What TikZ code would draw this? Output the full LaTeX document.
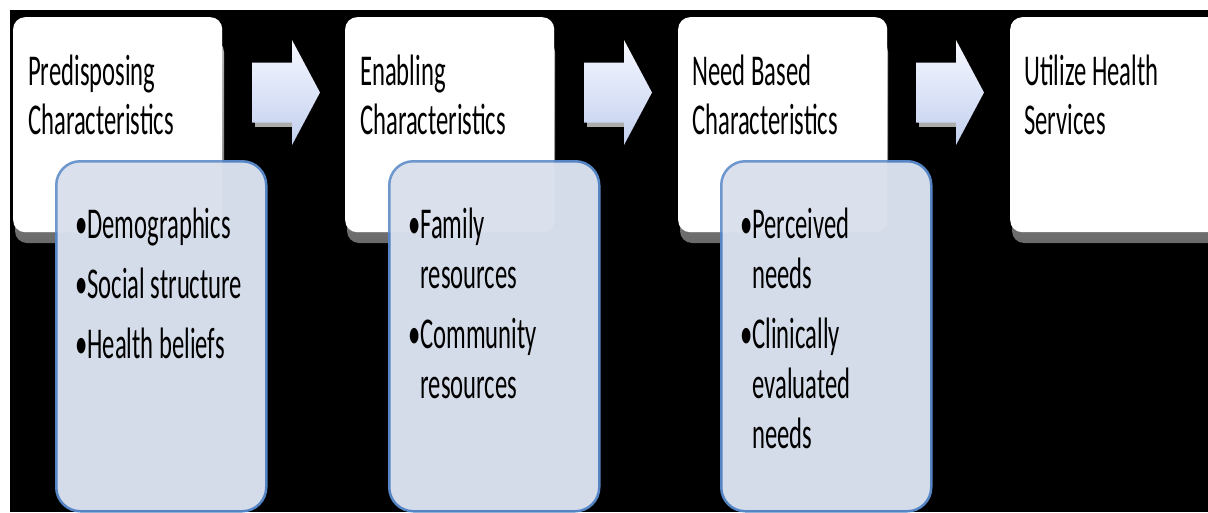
\documentclass[tikz,border=0pt]{standalone}
\usepackage{fontspec}
\setmainfont{Carlito}[FakeStretch=0.56]
\definecolor{panelfill}{HTML}{D5DCE9}
\definecolor{paneledge}{HTML}{5585C5}
\definecolor{arrowtop}{HTML}{F6F8FF}
\definecolor{arrowbot}{HTML}{C2CFEF}
\definecolor{shadowtop}{HTML}{B4B4B4}
\definecolor{shadowbot}{HTML}{6A6A6A}
\newcommand{\hangsp}{\phantom{•}}
\tikzset{
  stagebox/.style={fill=white, rounded corners=12pt, inner sep=0pt,
    minimum width=209pt, minimum height=215pt, anchor=north west},
  stageshadow/.style={top color=shadowtop, bottom color=shadowbot, rounded corners=12pt},
  detailbox/.style={fill=panelfill, draw=paneledge, line width=2.5pt,
    rounded corners=24pt, inner sep=0pt, minimum width=210pt,
    minimum height=350pt, anchor=north west},
  arrowshadow/.style={fill=gray!65},
  blockarrow/.pic={
    \fill[arrowshadow] (3,28) rectangle (40,34);
    \shade[top color=arrowtop, bottom color=arrowbot]
      (0,-30) -- (40,-30) -- (40,-52.5) -- (68,0) -- (40,52.5)
      -- (40,30) -- (0,30) -- cycle;
    \coordinate (-tip) at (68,0);
  },
  heading/.style={anchor=north west, inner sep=0pt, align=left,
    font={\fontsize{44}{49}\selectfont}},
  bullets/.style={anchor=north west, inner sep=0pt, align=left,
    font={\fontsize{44}{50}\selectfont}}
}
\begin{document}
\begin{tikzpicture}[x=1pt,y=-1pt]
  \useasboundingbox (0,0) rectangle (1208,512);
  \clip (0,0) rectangle (1208,512);
  \fill[white] (0,0) rectangle (1208,512);
  \fill[black] (10,10) rectangle (1208,512);

  % stage shadows and boxes
  \fill[stageshadow] (15,40) rectangle (224,243);
  \fill[stageshadow] (347,40) rectangle (555,243);
  \fill[stageshadow] (680,40) rectangle (888,243);
  \fill[stageshadow] (1012,40) rectangle (1230,243);
  \node[stagebox] (s1) at (13,17) {};
  \node[stagebox] (s2) at (345,17) {};
  \node[stagebox] (s3) at (678,17) {};
  \node[stagebox, minimum width=220pt] (s4) at (1010,17) {};

  % block arrows between stages
  \pic (a1) at (252,92.5) {blockarrow};
  \pic (a2) at (584,92.5) {blockarrow};
  \pic (a3) at (916,92.5) {blockarrow};

  % detail panels
  \node[detailbox] (d1) at (55,160) {};
  \node[detailbox] (d2) at (388,160) {};
  \node[detailbox] (d3) at (720,160) {};

  % stage boxes seen faintly through the panels
  \fill[white, fill opacity=0.15, rounded corners=12pt] (s1.north west) rectangle (s1.south east);
  \fill[white, fill opacity=0.15, rounded corners=12pt] (s2.north west) rectangle (s2.south east);
  \fill[white, fill opacity=0.15, rounded corners=12pt] (s3.north west) rectangle (s3.south east);

  % headings
  \node[heading] (h1) at (28,49) {\rule{0pt}{36pt}Predisposing\\Characteristics};
  \node[heading] (h2) at (360,49) {\rule{0pt}{36pt}Enabling\\Characteristics};
  \node[heading] (h3) at (692,49) {\rule{0pt}{36pt}Need Based\\Characteristics};
  \node[heading] (h4) at (1024,49) {\rule{0pt}{36pt}Utilize Health\\Services};

  % bullet lists
  \node[bullets] (l1) at (75,202) {\rule{0pt}{36pt}•Demographics\\[10pt]•Social structure\\[10pt]•Health beliefs};
  \node[bullets] (l2) at (408,202) {\rule{0pt}{36pt}•Family\\\hangsp resources\\[10pt]•Community\\\hangsp resources};
  \node[bullets] (l3) at (740,202) {\rule{0pt}{36pt}•Perceived\\\hangsp needs\\[10pt]•Clinically\\\hangsp evaluated\\\hangsp needs};
\end{tikzpicture}
\end{document}
